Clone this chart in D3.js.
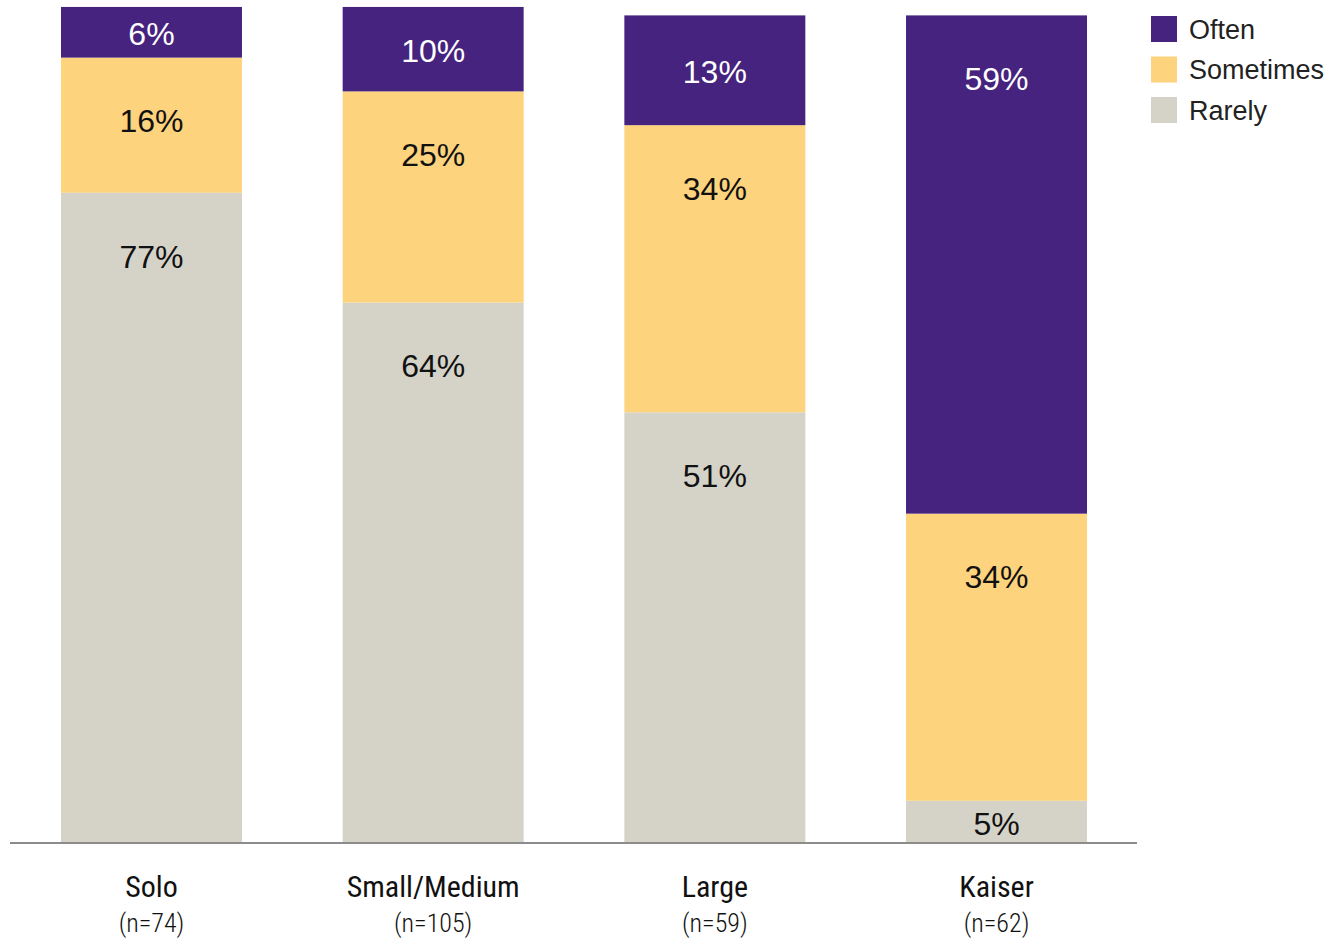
<!DOCTYPE html>
<html><head><meta charset="utf-8">
<script src="https://cdn.jsdelivr.net/npm/d3@7"></script>
<style>body{margin:0;background:#fff}</style>
</head><body>
<svg id="c" width="1327" height="939"></svg>
<script>
const categories = ["Solo", "Small/Medium", "Large", "Kaiser"];
const sampleSizes = ["(n=74)", "(n=105)", "(n=59)", "(n=62)"];
const seriesNames = ["Rarely", "Sometimes", "Often"];
const rarely = [77, 64, 51, 5];
const sometimes = [16, 25, 34, 34];
const often = [6, 10, 13, 59];
const legendOrder = ["Often", "Sometimes", "Rarely"];
const colors = {Often: "#45237e", Sometimes: "#fdd37e", Rarely: "#d5d3c8"};

const svg = d3.select("#c");
const rows = categories.map((c, i) => ({cat: c, Rarely: rarely[i], Sometimes: sometimes[i], Often: often[i]}));
const stack = d3.stack().keys(seriesNames)(rows);

const x = d3.scaleBand().domain(categories).range([10, 1138]).paddingInner(0.3575).paddingOuter(0.181);
const y = d3.scaleLinear().domain([0, 100]).range([843, -1.5]);

const g = svg.append("g");
stack.forEach(layer => {
  const key = layer.key;
  g.selectAll(null).data(layer).join("rect")
    .attr("x", d => x(d.data.cat))
    .attr("width", x.bandwidth())
    .attr("y", d => y(d[1]))
    .attr("height", d => y(d[0]) - y(d[1]))
    .attr("fill", colors[key]);
  g.selectAll(null).data(layer).join("text")
    .attr("x", d => x(d.data.cat) + x.bandwidth() / 2)
    .attr("y", d => { const t = y(d[1]), h = y(d[0]) - y(d[1]); return t + Math.min(h / 2, 62); })
    .attr("dy", "0.4em")
    .attr("text-anchor", "middle")
    .attr("font-family", "Liberation Sans, Arial, sans-serif")
    .attr("font-size", 32)
    .attr("fill", key === "Often" ? "#fff" : "#111")
    .text(d => (d[1] - d[0]) + "%");
});

// baseline axis
const axis = d3.axisBottom(x).tickSize(0).tickFormat("");
const ax = svg.append("g").attr("transform", "translate(0,843)").call(axis);
ax.select(".domain").attr("stroke", "#8c8c8c").attr("stroke-width", 2).attr("d", "M10,0H1137");

categories.forEach((c, i) => {
  const cx = x(c) + x.bandwidth() / 2;
  svg.append("text").attr("x", cx).attr("y", 897).attr("text-anchor", "middle")
    .attr("font-family", "Roboto Condensed, Liberation Sans Narrow, sans-serif")
    .attr("font-weight", 400)
    .attr("font-size", 30).attr("fill", "#111").text(c);
  svg.append("text").attr("x", cx).attr("y", 932).attr("text-anchor", "middle")
    .attr("font-family", "Roboto Condensed, Liberation Sans Narrow, sans-serif")
    .attr("font-weight", 300)
    .attr("font-size", 26).attr("fill", "#111").text(sampleSizes[i]);
});

const lg = svg.append("g");
legendOrder.forEach((k, i) => {
  lg.append("rect").attr("x", 1151).attr("y", 16 + i * 40.5).attr("width", 26).attr("height", 26).attr("fill", colors[k]);
  lg.append("text").attr("x", 1189).attr("y", 29 + i * 40.5).attr("dy", "0.36em")
    .attr("font-family", "Liberation Sans, Arial, sans-serif").attr("font-size", 27).attr("fill", "#222").text(k);
});
</script>
</body></html>
